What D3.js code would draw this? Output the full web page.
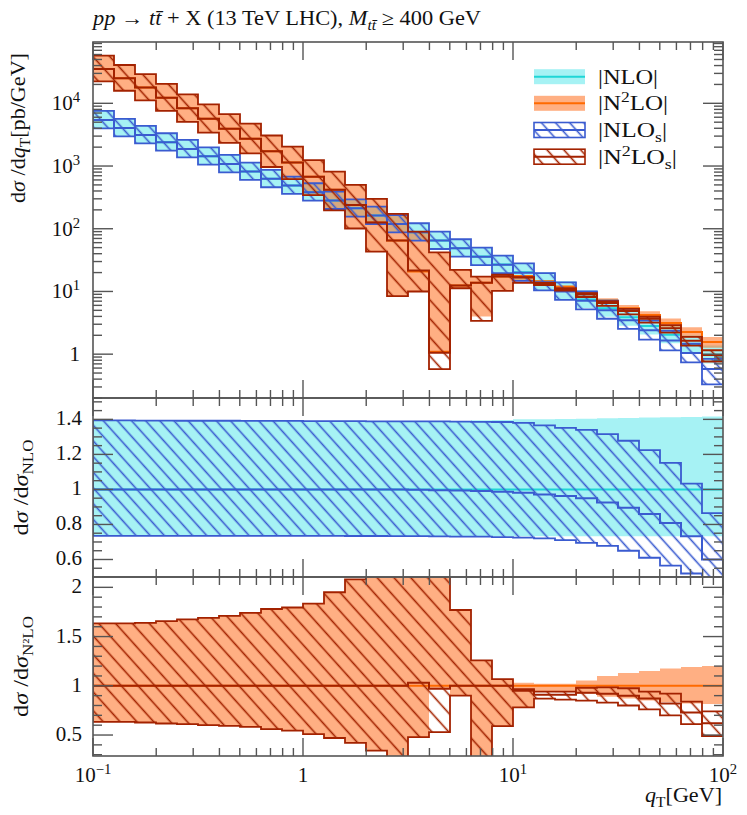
<!DOCTYPE html>
<html><head><meta charset="utf-8">
<script src="https://cdn.jsdelivr.net/npm/d3@7"></script>
<style>body{margin:0;background:#fff}svg{display:block}text{font-family:"Liberation Serif","DejaVu Serif",serif;fill:#111}</style>
</head><body><svg id="c" width="747" height="815"></svg>
<script>
// ---------------- data ----------------
const binEdges = [0.1,0.1259,0.1585,0.1995,0.2512,0.3162,0.3981,0.5012,0.631,0.7943,1,1.259,1.585,1.995,2.512,3.162,3.981,5.012,6.31,7.943,10,12.59,15.85,19.95,25.12,31.62,39.81,50.12,63.1,79.43,100];
const nloCentral = [5430,4050,3130,2390,1875,1430,1080,817,624,488,382,281,212,162,119,88.1,64.9,49.0,36.1,26.9,20.3,14.4,10.35,7.45,5.41,3.89,2.80,2.04,1.42,0.97];
const nloRatioHi = [1.394,1.394,1.393,1.393,1.392,1.392,1.392,1.391,1.391,1.391,1.39,1.39,1.39,1.39,1.39,1.39,1.39,1.39,1.395,1.397,1.40,1.40,1.402,1.404,1.406,1.408,1.41,1.412,1.414,1.416];
const nloRatioLo = [0.735,0.735,0.735,0.735,0.735,0.735,0.735,0.735,0.735,0.735,0.734,0.734,0.734,0.734,0.734,0.734,0.733,0.733,0.733,0.733,0.733,0.733,0.733,0.733,0.733,0.733,0.733,0.733,0.733,0.733];
const nlosRatioC = [1,1,1,1,1,1,1,1,1,1,1,1,1,1,0.999,0.998,0.996,0.994,0.991,0.987,0.981,0.971,0.962,0.95,0.925,0.895,0.86,0.808,0.733,0.6];
const nlosRatioHi = [1.394,1.394,1.393,1.393,1.392,1.392,1.392,1.391,1.391,1.391,1.39,1.39,1.39,1.389,1.389,1.388,1.388,1.387,1.386,1.385,1.38,1.366,1.352,1.34,1.316,1.278,1.224,1.152,1.033,0.865];
const nlosRatioLo = [0.735,0.735,0.735,0.735,0.735,0.735,0.735,0.735,0.735,0.735,0.735,0.735,0.734,0.734,0.733,0.733,0.732,0.731,0.73,0.728,0.725,0.72,0.71,0.695,0.678,0.65,0.61,0.565,0.52,0.34];
const n2loCentral = [35200,25000,17800,12300,8320,5700,3940,2735,1722,1138,676,418,240,126,64.7,20.9,1.09,12.5,13.75,17.3,17.6,14.5,12.0,9.6,7.1,5.4,4.2,3.15,2.25,1.56];
const n2loRatioHi = [1.634,1.634,1.64,1.657,1.675,1.69,1.71,1.74,1.78,1.795,1.835,1.95,2.08,2.37,2.66,4.3,38.5,1.77,1.258,1.068,1.03,1.02,1.02,1.055,1.10,1.13,1.15,1.175,1.19,1.20];
const n2loRatioLo = [0.634,0.634,0.627,0.617,0.61,0.60,0.593,0.583,0.56,0.545,0.51,0.47,0.42,0.342,0.13,0.478,0.97,0.90,0.29,0.59,0.78,0.94,0.935,0.92,0.89,0.87,0.85,0.835,0.82,0.815];
const n2losRatioC = [1,1,1,1,1,1,1,1,1,1,1,1,1,1,1,1.03,0.97,1,1,1,0.95,0.91,0.91,0.93,0.92,0.90,0.87,0.82,0.73,0.62];
const n2losRatioHi = [1.634,1.634,1.64,1.657,1.675,1.69,1.71,1.74,1.78,1.795,1.835,1.95,2.08,2.37,2.66,4.3,38.5,1.77,1.258,1.068,0.965,0.94,0.94,0.98,0.985,0.975,0.94,0.92,0.84,0.74];
const n2losRatioLo = [0.634,0.634,0.627,0.617,0.61,0.60,0.593,0.583,0.56,0.545,0.51,0.47,0.42,0.342,0.13,0.478,0.529,0.90,0.247,0.59,0.78,0.87,0.86,0.85,0.83,0.80,0.76,0.70,0.61,0.49];
const xTickVals = [0.1,1,10,100];
const xTickExp = ["−1","","1","2"];
const topTickVals = [1,10,100,1000,10000];
const topTickExp = ["","1","2","3","4"];
const midTickVals = [0.6,0.8,1,1.2,1.4];
const botTickVals = [0.5,1,1.5,2];
const legendLabels = [["|NLO|"],["|N","2","LO|"],["|NLO","s","|"],["|N","2","LO","s","|"]];

// ---------------- layout ----------------
const X0 = 93, X1 = 723;
const P = {top:[42,398], mid:[398,577], bot:[577,756]};
const C = {cyanFill:"rgba(20,222,226,0.38)", cyanLine:"#1fd6d6", orangeFill:"rgba(255,110,30,0.55)",
           orangeLine:"#ff6a00", blue:"#3a5bd0", dred:"#a32200", axis:"#555"};

const svg = d3.select("#c");
const defs = svg.append("defs");
function hatch(id, color, sp, ang){
  const p = defs.append("pattern").attr("id",id).attr("patternUnits","userSpaceOnUse")
    .attr("width",sp).attr("height",sp).attr("patternTransform",`rotate(${ang})`);
  p.append("line").attr("x1",sp/2).attr("y1",-1).attr("x2",sp/2).attr("y2",sp+1)
    .attr("stroke",color).attr("stroke-width",1.6);
}
hatch("hBlue", C.blue, 10.5, -42);
hatch("hRed", C.dred, 12.5, -42);
Object.entries(P).forEach(([k,[a,b]])=>{
  defs.append("clipPath").attr("id","clip-"+k).append("rect").attr("x",X0).attr("y",a).attr("width",X1-X0).attr("height",b-a);
});

const x = d3.scaleLog().domain([0.1,100]).range([X0,X1]);
const yTop = d3.scaleLog().domain([0.2,9.5e4]).range([P.top[1],P.top[0]]);
const yMid = d3.scaleLinear().domain([0.5,1.522]).range([P.mid[1],P.mid[0]]);
const yBot = d3.scaleLinear().domain([0.287,2.105]).range([P.bot[1],P.bot[0]]);

const idx = d3.range(31);
const at = (arr,i)=>arr[Math.min(i,29)];
const mul = (a,b)=>a.map((v,i)=>v*b[i]);
const ones = nloCentral.map(()=>1);

function band(g, yS, lo, hi, fill, stroke){
  const ar = d3.area().curve(d3.curveStepAfter).x(i=>x(binEdges[i]))
    .y0(i=>yS(at(lo,i))).y1(i=>yS(at(hi,i)));
  g.append("path").attr("d",ar(idx)).attr("fill",fill)
    .attr("stroke",stroke||"none").attr("stroke-width",1.8).attr("stroke-linejoin","miter");
}
function line(g, yS, vals, color, w){
  const ln = d3.line().curve(d3.curveStepAfter).x(i=>x(binEdges[i])).y(i=>yS(at(vals,i)));
  g.append("path").attr("d",ln(idx)).attr("fill","none").attr("stroke",color).attr("stroke-width",w||2);
}

// ---- top panel
const gT = svg.append("g").attr("clip-path","url(#clip-top)");
band(gT, yTop, mul(nloCentral,nloRatioLo), mul(nloCentral,nloRatioHi), C.cyanFill);
band(gT, yTop, mul(n2loCentral,n2loRatioLo), mul(n2loCentral,n2loRatioHi), C.orangeFill);
line(gT, yTop, nloCentral, C.cyanLine);
line(gT, yTop, n2loCentral, C.orangeLine);
band(gT, yTop, mul(nloCentral,nlosRatioLo), mul(nloCentral,nlosRatioHi), "url(#hBlue)", C.blue);
line(gT, yTop, mul(nloCentral,nlosRatioC), C.blue);
band(gT, yTop, mul(n2loCentral,n2losRatioLo), mul(n2loCentral,n2losRatioHi), "url(#hRed)", C.dred);
line(gT, yTop, mul(n2loCentral,n2losRatioC), C.dred);

// ---- middle panel (ratio to NLO)
const gM = svg.append("g").attr("clip-path","url(#clip-mid)");
band(gM, yMid, nloRatioLo, nloRatioHi, C.cyanFill);
line(gM, yMid, ones, C.cyanLine);
band(gM, yMid, nlosRatioLo, nlosRatioHi, "url(#hBlue)", C.blue);
line(gM, yMid, nlosRatioC, C.blue);

// ---- bottom panel (ratio to N2LO)
const gB = svg.append("g").attr("clip-path","url(#clip-bot)");
band(gB, yBot, n2loRatioLo, n2loRatioHi, C.orangeFill);
line(gB, yBot, ones, C.orangeLine);
band(gB, yBot, n2losRatioLo, n2losRatioHi, "url(#hRed)", C.dred);
line(gB, yBot, n2losRatioC, C.dred);

// ---------------- frames & ticks ----------------
const gA = svg.append("g").attr("stroke",C.axis).attr("stroke-width",1.4).attr("fill","none");
function tick(x1,y1,x2,y2){ gA.append("line").attr("x1",x1).attr("y1",y1).attr("x2",x2).attr("y2",y2); }
const xMinor = [];
[0.1,1,10].forEach(d=>{ for(let k=2;k<=9;k++) xMinor.push(k*d); });
Object.values(P).forEach(([a,b])=>{
  xTickVals.forEach(v=>{ const px=x(v); tick(px,b,px,b-18); tick(px,a,px,a+18); });
  xMinor.forEach(v=>{ const px=x(v); tick(px,b,px,b-8); tick(px,a,px,a+8); });
});
function yTicks(yS, majors, minors){
  majors.forEach(v=>{ const py=yS(v); tick(X0,py,X0+20,py); tick(X1,py,X1-20,py); });
  minors.forEach(v=>{ const py=yS(v); tick(X0,py,X0+9,py); tick(X1,py,X1-9,py); });
}
const topMinor = [];
[0.1,1,10,100,1000,10000].forEach(d=>{ for(let k=2;k<=9;k++){ const v=k*d; if(v>=0.2&&v<=9.5e4) topMinor.push(v);} });
yTicks(yTop, topTickVals, topMinor);
yTicks(yMid, midTickVals, d3.range(11,31).map(k=>k*0.05).filter(v=>v>0.5&&v<1.52&&Math.abs(v*5-Math.round(v*5))>1e-6));
yTicks(yBot, botTickVals, d3.range(3,21).map(k=>k/10).filter(v=>v>0.287&&v<2.105&&Math.abs(v*2-Math.round(v*2))>1e-6));
Object.values(P).forEach(([a,b])=>{
  gA.append("rect").attr("x",X0).attr("y",a).attr("width",X1-X0).attr("height",b-a).attr("stroke-width",1.6);
});

// ---------------- text helpers ----------------
function rich(t, parts, len){
  let shift = 0;
  parts.forEach(p=>{
    const [s,m] = Array.isArray(p)?p:[p];
    const ts = t.append("tspan").text(s);
    let target = 0;
    if(m==="sup") target=-8; else if(m==="sub"||m==="subit") target=5;
    if(target!==shift){ ts.attr("dy", target-shift); shift=target; }
    if(m==="sup"||m==="sub"||m==="subit") ts.attr("font-size","0.7em");
    if(m==="it"||m==="subit") ts.attr("font-style","italic");
  });
  if(len) t.attr("textLength",len).attr("lengthAdjust","spacingAndGlyphs");
  return t;
}

// title
rich(svg.append("text").attr("x",93).attr("y",25).attr("font-size",20),
  [["pp","it"],[" → "],["tt\u0304","it"],[" + X (13 TeV LHC), "],["M","it"],["tt\u0304","subit"],[" ≥ 400 GeV"]], 388);

// x tick labels
xTickVals.forEach((v,i)=>{
  const t = svg.append("text").attr("x",x(v)).attr("y",782).attr("font-size",21).attr("text-anchor","middle");
  if(xTickExp[i]==="") t.text("1"); else rich(t, [["10"],[xTickExp[i],"sup"]]);
});
rich(svg.append("text").attr("x",722).attr("y",802).attr("font-size",21).attr("text-anchor","end"),
  [["q","it"],["T","sub"],["[GeV]"]], 77);

// y tick labels
topTickVals.forEach((v,i)=>{
  const t = svg.append("text").attr("x",80).attr("y",yTop(v)+7).attr("font-size",21).attr("text-anchor","end");
  if(topTickExp[i]==="") t.text("1"); else rich(t, [["10"],[topTickExp[i],"sup"]]);
});
midTickVals.forEach(v=>{
  svg.append("text").attr("x",82).attr("y",yMid(v)+6).attr("font-size",21).attr("text-anchor","end").text(d3.format("")(v));
});
botTickVals.forEach(v=>{
  svg.append("text").attr("x",82).attr("y",yBot(v)+6).attr("font-size",21).attr("text-anchor","end").text(d3.format("")(v));
});

// y axis titles
rich(svg.append("text").attr("transform","translate(25,53) rotate(-90)").attr("font-size",21).attr("text-anchor","end"),
  [["d"],["σ","it"],[" /d"],["q","it"],["T","sub"],["[pb/GeV]"]], 150);
rich(svg.append("text").attr("transform",`translate(28,${(P.mid[0]+P.mid[1])/2}) rotate(-90)`).attr("font-size",21).attr("text-anchor","middle"),
  [["d"],["σ","it"],[" /d"],["σ","it"],["NLO","sub"]], 96);
rich(svg.append("text").attr("transform",`translate(28,${(P.bot[0]+P.bot[1])/2}) rotate(-90)`).attr("font-size",21).attr("text-anchor","middle"),
  [["d"],["σ","it"],[" /d"],["σ","it"],["N²LO","sub"]], 101);

// ---------------- legend ----------------
const legY = [76.7,103.3,130,156.7];
const legLen = [60,70,69,79];
const sw = {x:534, w:51, h:15};
const legStyles = [
  {fill:C.cyanFill, stroke:"none", line:C.cyanLine},
  {fill:C.orangeFill, stroke:"none", line:C.orangeLine},
  {fill:"url(#hBlue)", stroke:C.blue, line:C.blue},
  {fill:"url(#hRed)", stroke:C.dred, line:C.dred}
];
legStyles.forEach((s,i)=>{
  const cy = legY[i];
  svg.append("rect").attr("x",sw.x).attr("y",cy-sw.h/2).attr("width",sw.w).attr("height",sw.h)
    .attr("fill",s.fill).attr("stroke",s.stroke).attr("stroke-width",1.6);
  svg.append("line").attr("x1",sw.x).attr("x2",sw.x+sw.w).attr("y1",cy).attr("y2",cy).attr("stroke",s.line).attr("stroke-width",2);
  const t = svg.append("text").attr("x",598).attr("y",cy+7).attr("font-size",21);
  const L = legendLabels[i];
  if(i===0) rich(t,[[L[0]]], legLen[i]);
  else if(i===1) rich(t,[[L[0]],[L[1],"sup"],[L[2]]], legLen[i]);
  else if(i===2) rich(t,[[L[0]],[L[1],"sub"],[L[2]]], legLen[i]);
  else rich(t,[[L[0]],[L[1],"sup"],[L[2]],[L[3],"sub"],[L[4]]], legLen[i]);
});
</script></body></html>
